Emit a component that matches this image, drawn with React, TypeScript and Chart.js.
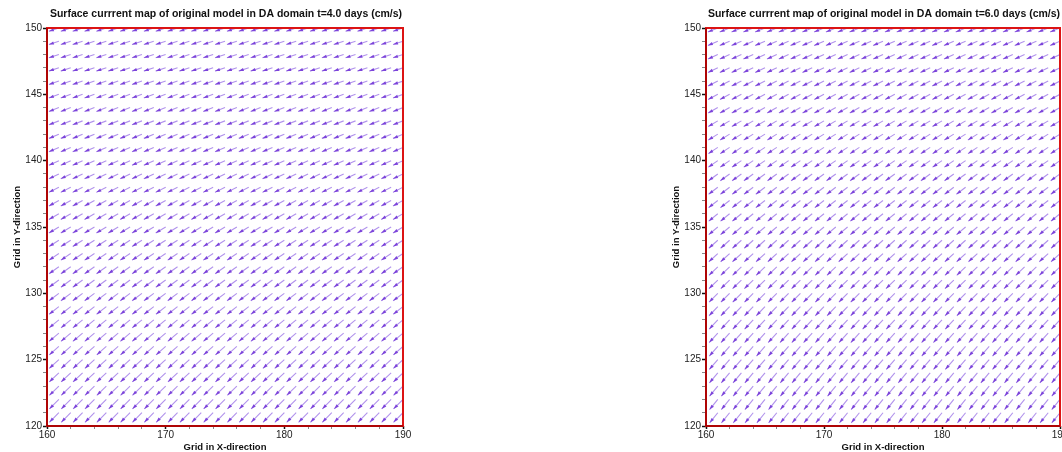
import { useEffect, useRef } from 'react';
import { Chart, registerables } from 'chart.js';

Chart.register(...registerables);

// Grid nodes (arrow tails)
const X_GRID = [161, 162, 163, 164, 165, 166, 167, 168, 169, 170, 171, 172, 173, 174, 175, 176, 177, 178, 179, 180, 181, 182, 183, 184, 185, 186, 187, 188, 189, 190];
const Y_GRID = [121, 122, 123, 124, 125, 126, 127, 128, 129, 130, 131, 132, 133, 134, 135, 136, 137, 138, 139, 140, 141, 142, 143, 144, 145, 146, 147, 148, 149, 150];

// Row-wise current components (cm/s), one value per Y_GRID row, t = 4.0 days
const U_T4 = [-8.0, -8.0, -8.0, -8.1, -8.1, -8.1, -8.2, -8.2, -8.2, -8.3, -8.3, -8.3, -8.3, -8.3, -8.4, -8.4, -8.4, -8.4, -8.4, -8.4, -8.4, -8.4, -8.4, -8.4, -8.4, -8.4, -8.4, -8.4, -8.4, -8.4];
const V_T4 = [-7.2, -7.1, -6.9, -6.8, -6.6, -6.4, -6.2, -6.0, -5.8, -5.6, -5.4, -5.2, -5.0, -4.7, -4.5, -4.3, -4.1, -3.9, -3.7, -3.5, -3.3, -3.2, -3.0, -2.9, -2.7, -2.6, -2.5, -2.5, -2.4, -2.4];

// t = 6.0 days
const U_T6 = [-6.9, -7.0, -7.0, -7.1, -7.2, -7.2, -7.3, -7.3, -7.4, -7.4, -7.5, -7.5, -7.6, -7.6, -7.7, -7.7, -7.8, -7.8, -7.9, -8.0, -8.0, -8.1, -8.1, -8.2, -8.2, -8.3, -8.3, -8.3, -8.4, -8.4];
const V_T6 = [-7.6, -7.6, -7.5, -7.5, -7.4, -7.3, -7.1, -7.0, -6.9, -6.7, -6.5, -6.4, -6.2, -6.0, -5.8, -5.6, -5.4, -5.3, -5.1, -4.9, -4.7, -4.5, -4.3, -4.1, -3.9, -3.7, -3.5, -3.4, -3.2, -3.0];

const TITLE_T4 = 'Surface currrent map of original model in DA domain t=4.0 days (cm/s)';
const TITLE_T6 = 'Surface currrent map of original model in DA domain t=6.0 days (cm/s)';
const X_TITLE = 'Grid in X-direction';
const Y_TITLE = 'Grid in Y-direction';

const X_MIN = 160, X_MAX = 190, X_STEP = 2, X_LABEL_EVERY = 10;
const Y_MIN = 120, Y_MAX = 150, Y_STEP = 1, Y_LABEL_EVERY = 5;

const QUIVER_SCALE = 0.1; // grid units per cm/s

const FONT = "'Liberation Sans', Arial, sans-serif";

const quiverPlugin = {
  id: 'quiver',
  afterDatasetsDraw(chart: any) {
    const { ctx, chartArea, scales } = chart;
    const xs = scales.x, ys = scales.y;
    ctx.save();
    ctx.beginPath();
    ctx.rect(chartArea.left, chartArea.top, chartArea.right - chartArea.left, chartArea.bottom - chartArea.top);
    ctx.clip();
    chart.data.datasets.forEach((ds: any) => {
      ds.data.forEach((p: any) => {
        const x0 = xs.getPixelForValue(p.x);
        const y0 = ys.getPixelForValue(p.y);
        const x1 = xs.getPixelForValue(p.x + p.u * QUIVER_SCALE);
        const y1 = ys.getPixelForValue(p.y + p.v * QUIVER_SCALE);
        const dx = x1 - x0, dy = y1 - y0;
        const len = Math.hypot(dx, dy) || 1;
        const ux = dx / len, uy = dy / len;
        ctx.strokeStyle = '#b192ec';
        ctx.lineWidth = 1.1;
        ctx.beginPath();
        ctx.moveTo(x0, y0);
        ctx.lineTo(x1, y1);
        ctx.stroke();
        const hl = 5, hw = 1.6;
        const bx = x1 - ux * hl, by = y1 - uy * hl;
        ctx.fillStyle = '#7c44da';
        ctx.beginPath();
        ctx.moveTo(x1, y1);
        ctx.lineTo(bx - uy * hw, by + ux * hw);
        ctx.lineTo(bx + uy * hw, by - ux * hw);
        ctx.closePath();
        ctx.fill();
      });
    });
    ctx.restore();
  },
};

const framePlugin = {
  id: 'frame',
  afterDraw(chart: any) {
    const { ctx, chartArea } = chart;
    const { left, right, top, bottom } = chartArea;
    ctx.save();
    ctx.strokeStyle = '#dc1414';
    ctx.lineWidth = 2;
    ctx.strokeRect(left, top, right - left, bottom - top);
    ctx.strokeStyle = '#a00000';
    ctx.lineWidth = 1.5;
    ctx.beginPath();
    ctx.moveTo(left, top);
    ctx.lineTo(left, bottom);
    ctx.lineTo(right, bottom);
    ctx.stroke();
    ctx.restore();
  },
};

const panelTitlePlugin = {
  id: 'panelTitle',
  afterDraw(chart: any, _args: any, opts: any) {
    const { ctx, chartArea } = chart;
    ctx.save();
    ctx.font = `bold 10.5px ${FONT}`;
    ctx.fillStyle = '#111';
    ctx.textAlign = 'center';
    ctx.textBaseline = 'middle';
    ctx.fillText(opts.text, (chartArea.left + chartArea.right) / 2 + 1, 14);
    ctx.restore();
  },
};

function Panel(props: { title: string; u: number[]; v: number[]; left: number; width: number; axisWidth: number; padRight: number; yTitlePad: number }) {
  const ref = useRef<HTMLCanvasElement | null>(null);
  useEffect(() => {
    if (!ref.current) return;
    const points: any[] = [];
    Y_GRID.forEach((yy, i) => {
      X_GRID.forEach((xx) => {
        points.push({ x: xx, y: yy, u: props.u[i], v: props.v[i] });
      });
    });
    const tickFont = { family: FONT, size: 10 };
    const chart = new Chart(ref.current, {
      type: 'scatter',
      data: { datasets: [{ data: points, pointRadius: 0, pointHoverRadius: 0, showLine: false }] as any },
      options: {
        animation: false,
        responsive: false,
        devicePixelRatio: 1,
        events: [],
        layout: { padding: { top: 28, right: props.padRight, left: 0, bottom: 0 } },
        plugins: {
          legend: { display: false },
          tooltip: { enabled: false },
          panelTitle: { text: props.title },
        } as any,
        scales: {
          x: {
            type: 'linear',
            min: X_MIN,
            max: X_MAX,
            afterFit: (s: any) => { s.height = 26; },
            ticks: {
              stepSize: X_STEP,
              autoSkip: false,
              maxRotation: 0,
              padding: 0,
              color: '#222',
              font: tickFont,
              callback: (val: any) => (Number(val) % X_LABEL_EVERY === 0 ? String(val) : ''),
            },
            grid: {
              drawOnChartArea: false,
              drawTicks: true,
              tickLength: 3,
              tickColor: (c: any) => (c.tick && c.tick.value % X_LABEL_EVERY === 0 ? '#111' : '#888'),
              tickWidth: (c: any) => (c.tick && c.tick.value % X_LABEL_EVERY === 0 ? 1.5 : 1),
            },
            border: { display: false },
            title: { display: true, text: X_TITLE, color: '#111', font: { family: FONT, size: 9.5, weight: 'bold' }, padding: { top: 0, bottom: -1 } },
          },
          y: {
            type: 'linear',
            min: Y_MIN,
            max: Y_MAX,
            afterFit: (s: any) => { s.width = props.axisWidth; },
            ticks: {
              stepSize: Y_STEP,
              autoSkip: false,
              padding: 1,
              color: '#222',
              font: tickFont,
              callback: (val: any) => (Number(val) % Y_LABEL_EVERY === 0 ? String(val) : ''),
            },
            grid: {
              drawOnChartArea: false,
              drawTicks: true,
              tickLength: 4,
              tickColor: (c: any) => (c.tick && c.tick.value % Y_LABEL_EVERY === 0 ? '#111' : '#888'),
              tickWidth: (c: any) => (c.tick && c.tick.value % Y_LABEL_EVERY === 0 ? 1.5 : 1),
            },
            border: { display: false },
            title: { display: true, text: Y_TITLE, color: '#111', font: { family: FONT, size: 9.5, weight: 'bold' }, padding: { top: props.yTitlePad, bottom: 0 } },
          },
        },
      } as any,
      plugins: [quiverPlugin, framePlugin, panelTitlePlugin],
    });
    return () => chart.destroy();
  }, []);
  return (
    <canvas
      ref={ref}
      width={props.width}
      height={452}
      style={{ position: 'absolute', left: props.left, top: 0, width: props.width, height: 452 }}
    />
  );
}

export default function App() {
  return (
    <div style={{ position: 'absolute', left: 0, top: 0, width: 1062, height: 452, overflow: 'hidden', background: '#fff' }}>
      <Panel title={TITLE_T4} u={U_T4} v={V_T4} left={0} width={420} axisWidth={47} padRight={17} yTitlePad={12} />
      <Panel title={TITLE_T6} u={U_T6} v={V_T6} left={660} width={420} axisWidth={46} padRight={20} yTitlePad={11} />
    </div>
  );
}
